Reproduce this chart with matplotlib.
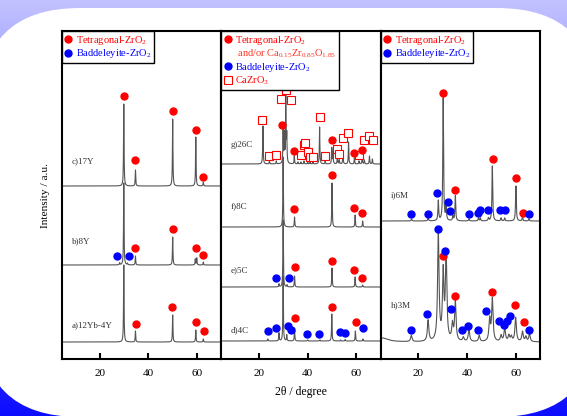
import matplotlib.pyplot as plt
import numpy as np
from matplotlib.patches import FancyBboxPatch
from matplotlib.lines import Line2D

plt.rcParams['font.family'] = ['Liberation Serif', 'DejaVu Serif']
plt.rcParams['mathtext.fontset'] = 'custom'
plt.rcParams['mathtext.rm'] = 'Liberation Serif'
plt.rcParams['mathtext.it'] = 'Liberation Serif:italic'

# peak lists: (2theta, height) ; optional 3rd value = half width
c17y_peaks = [(29.9, 82), (34.7, 16), (50.0, 67), (59.5, 49), (62.6, 4)]
c17y_tetra = [(29.9, 90), (34.6, 26), (50.0, 75), (59.4, 56), (62.5, 9)]
b8y_peaks = [(28.2, 2), (29.9, 82), (31.4, 1.5), (34.7, 9), (50.0, 28), (59.3, 6), (59.9, 7), (62.6, 3)]
b8y_tetra = [(34.7, 17), (50.0, 36), (59.4, 17), (62.6, 10)]
b8y_badd = [(27.1, 9), (32.2, 9)]
a12yb_peaks = [(29.9, 77), (34.7, 11), (50.0, 27), (59.5, 12), (62.6, 3)]
a12yb_tetra = [(34.8, 18), (49.9, 35), (59.4, 20), (62.7, 11)]

g26c_peaks = [(21.6, 38), (24.3, 3), (27.1, 3), (29.9, 33), (30.4, 29), (31.0, 70), (31.4, 27),
              (34.5, 8), (36.0, 2), (37.2, 2), (38.5, 3), (40.0, 2), (41.0, 2), (42.2, 2), (44.9, 37),
              (47.2, 3), (49.9, 16), (50.4, 12), (52.2, 8), (53.0, 4), (54.5, 12), (56.8, 22), (59.2, 6),
              (61.1, 3), (62.4, 8), (63.3, 4), (65.4, 8), (66.6, 5)]
g26c_tetra = [(29.6, 39), (34.4, 13), (49.8, 24), (59.1, 11), (62.4, 14)]
g26c_cazro3 = [(21.4, 44), (24.3, 8), (27.1, 9), (28.9, 65), (30.9, 74), (33.3, 64), (37.2, 9),
               (38.3, 19), (38.8, 21), (40.0, 12), (40.8, 7), (42.2, 7), (44.9, 47), (47.2, 8),
               (52.1, 15), (52.8, 10), (54.5, 26), (56.4, 31), (61.1, 9), (63.3, 24), (65.4, 28), (66.8, 24)]
f8c_peaks = [(29.9, 70), (34.6, 10), (50.0, 44), (59.5, 12), (62.6, 6)]
f8c_tetra = [(34.5, 18), (49.8, 52), (59.2, 19), (62.4, 14)]
e5c_peaks = [(28.2, 3), (29.9, 67), (31.5, 2), (34.6, 11), (50.0, 19), (59.5, 10), (62.6, 2)]
e5c_tetra = [(34.7, 20), (49.9, 26), (59.2, 17), (62.3, 9)]
e5c_badd = [(27.0, 9), (32.2, 9)]
d4c_peaks = [(23.6, 2), (28.2, 8), (29.9, 65), (31.4, 6), (34.6, 13), (40.0, 1), (45.0, 1), (49.9, 27),
             (53.5, 1), (55.4, 1.5), (59.6, 10), (62.7, 2)]
d4c_tetra = [(34.6, 23), (49.9, 34), (59.8, 19)]
d4c_badd = [(23.6, 10), (26.9, 13), (32.0, 15), (33.0, 11), (39.7, 7), (44.8, 7), (53.4, 9), (55.4, 8), (62.8, 13)]

i6m_peaks = [(17.2, 2), (24.0, 3), (28.2, 20), (30.2, 123), (31.4, 15), (34.2, 5), (35.2, 25), (40.8, 2),
             (44.7, 3), (45.5, 3), (48.8, 3), (50.4, 55), (54.0, 3), (55.5, 3), (60.1, 35), (62.8, 4), (65.5, 2)]
i6m_tetra = [(30.2, 128), (35.2, 31), (50.6, 62), (60.2, 43), (62.9, 8)]
i6m_badd = [(16.8, 7), (23.8, 7), (27.5, 28), (32.2, 19), (32.8, 10), (40.9, 7), (44.6, 8), (45.5, 11),
            (48.6, 11), (53.6, 11), (55.8, 11), (65.4, 7)]
h3m_peaks = [(5.0, 4, 3.0), (17.1, 6), (24.0, 21), (28.2, 107), (30.2, 67), (31.4, 86), (34.0, 16), (35.2, 39),
             (38.5, 4), (40.8, 12), (45.0, 6), (49.3, 22), (50.4, 42), (54.0, 6), (55.5, 14), (57.2, 6),
             (58.2, 5), (60.0, 24), (62.8, 10), (64.2, 5), (65.7, 8)]
h3m_tetra = [(30.1, 86), (35.2, 46), (50.4, 50), (59.9, 37), (63.4, 20)]
h3m_badd = [(16.8, 12), (23.7, 28), (27.9, 113), (31.1, 91), (33.4, 33), (38.0, 12), (40.5, 16), (44.6, 12),
            (47.6, 31), (53.2, 21), (55.2, 17), (56.4, 21), (57.7, 26), (65.4, 12)]

# (name, peaks, tetragonal, baddeleyite, CaZrO3, offset, label y, peak half width)
panels = [
    [('c)17Y', c17y_peaks, c17y_tetra, [], [], 172, 197, 0.12),
     ('b)8Y', b8y_peaks, b8y_tetra, b8y_badd, [], 93, 117, 0.12),
     ('a)12Yb-4Y', a12yb_peaks, a12yb_tetra, [], [], 16, 33, 0.12)],
    [('g)26C', g26c_peaks, g26c_tetra, [], g26c_cazro3, 194, 213, 0.12),
     ('f)8C', f8c_peaks, f8c_tetra, [], [], 131, 152, 0.12),
     ('e)5C', e5c_peaks, e5c_tetra, e5c_badd, [], 71, 88, 0.12),
     ('d)4C', d4c_peaks, d4c_tetra, d4c_badd, [], 17, 28, 0.12)],
    [('i)6M', i6m_peaks, i6m_tetra, i6m_badd, [], 137, 163, 0.18),
     ('h)3M', h3m_peaks, h3m_tetra, h3m_badd, [], 16, 53, 0.35)],
]

legends = [
    [('o', 'red', 'Tetragonal-ZrO$_2$'), ('o', 'blue', 'Baddeleyite-ZrO$_2$')],
    [('o', 'red', 'Tetragonal-ZrO$_2$'), (None, '#ff3322', ' and/or Ca$_{0.15}$Zr$_{0.85}$O$_{1.85}$'),
     ('o', 'blue', 'Baddeleyite-ZrO$_2$'), ('s', 'red', 'CaZrO$_3$')],
    [('o', 'red', 'Tetragonal-ZrO$_2$'), ('o', 'blue', 'Baddeleyite-ZrO$_2$')],
]


def pattern(x, peaks, w0):
    y = np.zeros_like(x)
    for pk in peaks:
        p, h = pk[0], pk[1]
        w = pk[2] if len(pk) > 2 else w0
        y += h / (1 + ((x - p) / w) ** 2)
    return y


W, H = 567, 416
fig = plt.figure(figsize=(W / 100, H / 100), dpi=100)

# background: blue gradient + white rounded card
bg = fig.add_axes([0, 0, 1, 1], zorder=-10)
grad = np.linspace(0, 1, 200)[:, None]
top = np.array([0.76, 0.76, 1.0])
bot = np.array([0.05, 0.05, 1.0])
img = top[None, None, :] * (1 - grad[:, :, None]) + bot[None, None, :] * grad[:, :, None]
bg.imshow(img, extent=[0, W, H, 0], aspect='auto')
bg.add_patch(FancyBboxPatch((-20, 8), 617, 409, boxstyle='round,pad=0,rounding_size=100',
                            fc='white', ec='none'))
bg.set_xlim(0, W)
bg.set_ylim(H, 0)
bg.axis('off')

x = np.arange(5.0, 70.0, 0.01)
ax_left, ax_w = 62 / W, 159.33 / W
for k, (samples, leg) in enumerate(zip(panels, legends)):
    ax = fig.add_axes([ax_left + k * ax_w, 57 / H, ax_w, 328 / H])
    for name, peaks, tetra, badd, caz, off, ly, w in samples:
        ax.plot(x, off + pattern(x, peaks, w), color='#555555', lw=0.8, zorder=2)
        for pts, mk, col in ((tetra, 'o', 'red'), (badd, 'o', 'blue')):
            if pts:
                px, py = zip(*pts)
                ax.plot(px, off + np.array(py), mk, color=col, ms=5, zorder=4)
        if caz:
            px, py = zip(*caz)
            ax.plot(px, off + np.array(py), 's', mfc='white', mec='red', mew=0.8, ms=6, zorder=3)
        ax.text(8.5, ly, name, fontsize=6.5, color='#333333', va='center', ha='left')

    handles, labels, colors = [], [], []
    for mk, col, lab in leg:
        if mk is None:
            handles.append(Line2D([], [], linestyle='none'))
        elif mk == 's':
            handles.append(Line2D([], [], marker='s', linestyle='none', mfc='white', mec=col, mew=0.8, ms=6))
        else:
            handles.append(Line2D([], [], marker=mk, linestyle='none', color=col, ms=5))
        labels.append(lab)
        colors.append(col)
    lg = ax.legend(handles, labels, loc='upper left', borderaxespad=0, fancybox=False, edgecolor='black',
                   framealpha=1, fontsize=7.5, handlelength=0.7, handletextpad=0.4, borderpad=0.25,
                   labelspacing=0.08, labelcolor=colors)
    lg.get_frame().set_linewidth(1.0)

    ax.set_xlim(4.5, 70)
    ax.set_ylim(-1, 327)
    ax.set_xticks([20, 40, 60])
    ax.set_yticks([])
    ax.tick_params(axis='x', direction='in', length=4, width=1.5, labelsize=8, pad=7)
    for s in ax.spines.values():
        s.set_linewidth(1.5)
    if k == 0:
        ax.set_ylabel('Intensity / a.u.', fontsize=8.2, labelpad=9)
    if k == 1:
        ax.set_xlabel('2θ / degree', fontsize=8.5, labelpad=6)

fig.savefig('out.png', dpi=100)
